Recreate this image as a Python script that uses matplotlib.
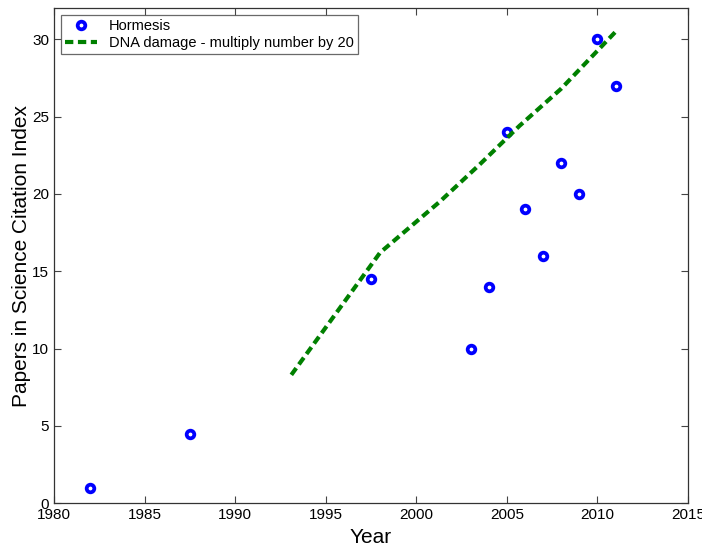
import matplotlib
matplotlib.use("Agg")
import matplotlib.pyplot as plt

plt.rcParams['font.family'] = ['Liberation Sans', 'DejaVu Sans']

hormesis_years = [1982, 1987.5, 1997.5, 2003, 2004, 2005, 2006, 2007, 2008, 2009, 2010, 2011]
hormesis_papers = [1, 4.5, 14.5, 10, 14, 24, 19, 16, 22, 20, 30, 27]

dna_years = [1993.1, 1998, 2001.3, 2003.5, 2005.7, 2008, 2011.1]
dna_papers = [8.3, 16.2, 19.5, 21.9, 24.4, 26.8, 30.6]

xticks = [1980, 1985, 1990, 1995, 2000, 2005, 2010, 2015]
yticks = [0, 5, 10, 15, 20, 25, 30]

fig = plt.figure(figsize=(7.02, 5.5), dpi=100)
ax = fig.add_axes([0.077, 0.085, 0.903, 0.9])

ax.plot(hormesis_years, hormesis_papers, linestyle='none', marker='o',
        markersize=5.5, markerfacecolor='white', markeredgecolor='#0000ff',
        markeredgewidth=2.7, label='Hormesis')
ax.plot(dna_years, dna_papers, color='#008000', linestyle=(0, (2.0, 1.1)),
        linewidth=3.0, label='DNA damage - multiply number by 20')

ax.set_xlim(1980, 2015)
ax.set_ylim(0, 32)
ax.set_xticks(xticks)
ax.set_yticks(yticks)
ax.tick_params(direction='in', top=True, right=True, labelsize=11, length=5, color='#444444')
for s in ax.spines.values():
    s.set_color('#333333')
    s.set_linewidth(0.9)

ax.set_xlabel('Year', fontsize=15, labelpad=4)
ax.set_ylabel('Papers in Science Citation Index', fontsize=15, labelpad=1)

leg = ax.legend(loc='upper left', fontsize=10.5, frameon=True, fancybox=False,
                edgecolor='#444444', borderpad=0.3, labelspacing=0.2,
                handlelength=2.2, borderaxespad=0.45)
leg.get_frame().set_linewidth(0.9)

fig.savefig('out.png', dpi=100, facecolor='white')
